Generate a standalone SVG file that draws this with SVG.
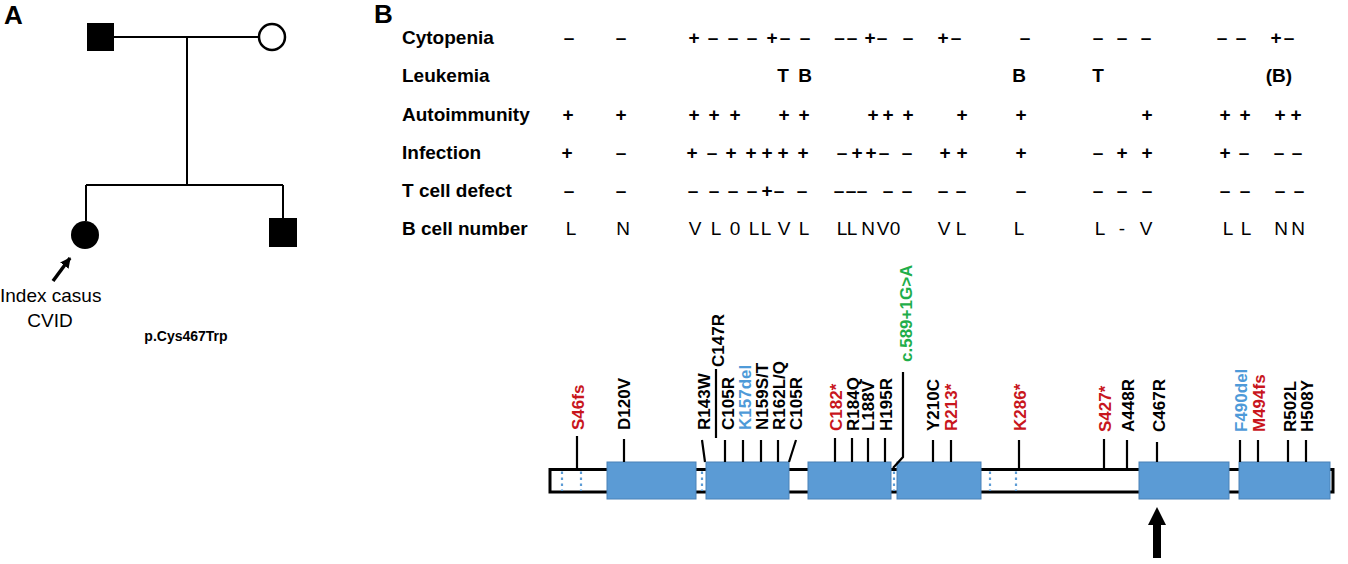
<svg xmlns="http://www.w3.org/2000/svg" width="1348" height="564" viewBox="0 0 1348 564">
<style>
text{font-family:"Liberation Sans",Arial,sans-serif;}
.panel{font-size:26px;font-weight:bold;}
.ped{font-size:19px;}
.lbl{font-size:19px;font-weight:bold;}
.sym{font-size:19px;font-weight:bold;text-anchor:middle;}
.let{font-size:19px;text-anchor:middle;}
.mut{font-size:17px;font-weight:bold;}
.red{fill:#c8161d;}
.blue{fill:#4e9ad8;}
.green{fill:#1fae4a;}
.pl{stroke:#000;stroke-width:2;fill:none;}
.tick{stroke:#000;stroke-width:2.2;fill:none;}
.exon{fill:#5b9bd5;stroke:#4a82b8;stroke-width:1;}
.dot{stroke:#5b9bd5;stroke-width:2.2;stroke-dasharray:2.4 3.6;fill:none;}
</style>
<defs>
<marker id="ah" viewBox="0 0 10 10" refX="9" refY="5" markerWidth="3" markerHeight="3" orient="auto" markerUnits="strokeWidth">
<path d="M0 0L10 5L0 10z" fill="#000"/>
</marker>
</defs>
<rect width="1348" height="564" fill="#fff"/>

<!-- Panel A -->
<text class="panel" x="4" y="24">A</text>
<g id="connectors">
<path class="pl" d="M114 37H259M187 37V185M86 185H283M86 185V221M283 185V218"/>
<path d="M53 281L70 258" stroke="#000" stroke-width="3.5" marker-end="url(#ah)"/>
</g>
<g id="father"><rect x="87" y="23" width="27" height="28" fill="#000"/></g>
<g id="mother"><circle cx="272" cy="37" r="13" fill="#fff" stroke="#000" stroke-width="2.5"/></g>
<g id="index-case"><circle cx="85" cy="235" r="14" fill="#000"/></g>
<g id="brother"><rect x="269" y="218" width="28" height="29" fill="#000"/></g>
<g id="index-label">
<text class="ped" x="0" y="301.5">Index casus</text>
<text class="ped" x="50" y="327" text-anchor="middle">CVID</text>
</g>
<text x="186" y="341" text-anchor="middle" font-size="14" font-weight="bold">p.Cys467Trp</text>

<!-- Panel B -->
<text class="panel" x="374" y="23">B</text>
<g id="table">
<text class="lbl" x="402" y="43.5">Cytopenia</text>
<text class="lbl" x="402" y="82">Leukemia</text>
<text class="lbl" x="402" y="120.5">Autoimmunity</text>
<text class="lbl" x="402" y="158.5">Infection</text>
<text class="lbl" x="402" y="197">T cell defect</text>
<text class="lbl" x="402" y="235">B cell number</text>

<text class="sym" y="43.5" x="569 621 694 713 733 752 772 785 805 839.5 852 870 882 908 943 956 1025 1098 1122 1146 1222 1241 1276 1289">––+–––+––––+––+–––––––+–</text>
<text class="sym" y="82" x="783 805 1019 1098">TBBT</text>
<text class="sym" y="82" x="1279">(B)</text>
<text class="sym" y="120.5" x="568 621 694 714 735 784 804 873 888 908 962 1021 1147 1225 1245 1280 1296">+++++++++++++++++</text>
<text class="sym" y="158.5" x="567 621 692 712 731 751 767 783 803 842 857 871 884 907 945 962 1021 1098 1122 1147 1225 1244 1279 1297">+–+–+++++–++––+++–+++–––</text>
<text class="sym" y="197" x="569 621 693 714 733 752 767 779 802 839 851 862 888 907 943 961 1021 1098 1122 1147 1225 1245 1280 1299">––––––+–––––––––––––––––</text>
<text class="let" y="235" x="571 623 695 716 735 754 766 784 804 842 852 868 883 895 944 961 1019 1100 1122 1146 1228 1246 1281 1298">LNVL0LLVLLLNV0VLLL-VLLNN</text>
</g>

<!-- Gene -->
<g id="gene">
<rect x="550" y="469.5" width="783" height="22.5" fill="#fff" stroke="#000" stroke-width="3"/>
<path class="dot" d="M562 471.5V491M581 471.5V491M702 471.5V491M894 471.5V491M990 471.5V491M1016 471.5V491"/>
<g id="exon1"><rect class="exon" x="607" y="462" width="89" height="37"/></g>
<g id="exon2"><rect class="exon" x="706" y="462" width="83" height="37"/></g>
<g id="exon3"><rect class="exon" x="808" y="462" width="83" height="37"/></g>
<g id="exon4"><rect class="exon" x="897" y="462" width="84" height="37"/></g>
<g id="exon5"><rect class="exon" x="1139" y="462" width="90" height="37"/></g>
<g id="exon6"><rect class="exon" x="1239" y="462" width="91" height="37"/></g>
</g>

<g id="mutation-ticks">
<path class="tick" d="M577 436V468M624 439V462M702 440L705 462M716 369V438M725 440V462M743 440V462M761 440V462M778 440V462M796 440L789 462M835 438V462M852 438V462M868 438V462M885 438V462M903 372V457L893 468M933 440V462M951 440V462M1019 440V468M1104 439V468M1127 440V468M1157 442V462M1240 440V462M1258 440V462M1288 440V462M1306 440V462"/>
</g>

<g id="mutation-labels">
<text class="mut red" transform="translate(583.5 430) rotate(-90)">S46fs</text>
<text class="mut" transform="translate(630 430) rotate(-90)">D120V</text>
<text class="mut" transform="translate(710 430) rotate(-90)">R143W</text>
<text class="mut" transform="translate(724 367) rotate(-90)">C147R</text>
<text class="mut" transform="translate(734 430) rotate(-90)">C105R</text>
<text class="mut blue" transform="translate(751 430) rotate(-90)">K157del</text>
<text class="mut" transform="translate(768 430) rotate(-90)">N159S/T</text>
<text class="mut" transform="translate(785 430) rotate(-90)">R162L/Q</text>
<text class="mut" transform="translate(802 430) rotate(-90)">C105R</text>
<text class="mut red" transform="translate(842 431) rotate(-90)">C182*</text>
<text class="mut" transform="translate(859 431) rotate(-90)">R184Q</text>
<text class="mut" transform="translate(874 431) rotate(-90)">L188V</text>
<text class="mut" transform="translate(892 431) rotate(-90)">H195R</text>
<text class="mut green" transform="translate(912 362) rotate(-90)">c.589+1G&gt;A</text>
<text class="mut" transform="translate(939 431) rotate(-90)">Y210C</text>
<text class="mut red" transform="translate(957 431) rotate(-90)">R213*</text>
<text class="mut red" transform="translate(1026 431) rotate(-90)">K286*</text>
<text class="mut red" transform="translate(1111 432) rotate(-90)">S427*</text>
<text class="mut" transform="translate(1134 432) rotate(-90)">A448R</text>
<text class="mut" transform="translate(1165 432) rotate(-90)">C467R</text>
<text class="mut blue" transform="translate(1247 432) rotate(-90)">F490del</text>
<text class="mut red" transform="translate(1265 432) rotate(-90)">M494fs</text>
<text class="mut" transform="translate(1296 432) rotate(-90)">R502L</text>
<text class="mut" transform="translate(1313 432) rotate(-90)">H508Y</text>
</g>

<g id="c467r-arrow">
<polygon points="1157,507 1166,525 1161,525 1161,558 1153,558 1153,525 1148,525" fill="#000"/>
</g>
</svg>
